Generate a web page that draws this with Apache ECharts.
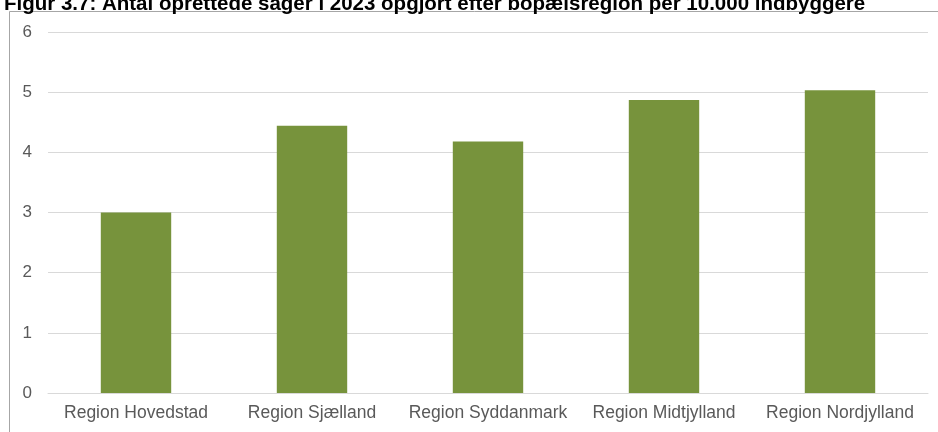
<!DOCTYPE html>
<html>
<head>
<meta charset="utf-8">
<script src="https://cdn.jsdelivr.net/npm/echarts@6/dist/echarts.min.js"></script>
<style>
  html, body { margin: 0; padding: 0; background: #fff; }
  #chart { width: 938px; height: 432px; }
</style>
</head>
<body>
<div id="chart"></div>
<script>
// regions and cases per 10.000 inhabitants
var regions = ['Region Hovedstad', 'Region Sjælland', 'Region Syddanmark', 'Region Midtjylland', 'Region Nordjylland'];
var casesPer10k = [3.0, 4.44, 4.18, 4.87, 5.03];
var yTicks = [0, 1, 2, 3, 4, 5, 6];

var chart = echarts.init(document.getElementById('chart'));

chart.setOption({
    animation: false,
    title: {
        text: 'Figur 3.7: Antal oprettede sager i 2023 opgjort efter bopælsregion per 10.000 indbyggere',
        left: -1,
        top: -11,
        textStyle: {
            fontFamily: 'Liberation Sans',
            fontWeight: 'bold',
            fontSize: 20.5,
            color: '#000'
        }
    },
    graphic: [{
        type: 'rect',
        shape: { x: 9.5, y: 11.5, width: 940, height: 430 },
        style: { fill: 'none', stroke: '#a6a6a6', lineWidth: 1 },
        silent: true,
        z: -1
    }],
    grid: { left: 48, right: 10, top: 32, bottom: 39 },
    xAxis: {
        type: 'category',
        data: regions,
        axisLine: { lineStyle: { color: '#d9d9d9', width: 1 } },
        axisTick: { show: false },
        axisLabel: {
            interval: 0,
            hideOverlap: false,
            margin: 11,
            fontFamily: 'Liberation Sans',
            fontSize: 17.5,
            color: '#595959'
        }
    },
    yAxis: {
        type: 'value',
        min: yTicks[0],
        max: yTicks[yTicks.length - 1],
        interval: 1,
        axisLine: { show: false },
        axisTick: { show: false },
        splitLine: { lineStyle: { color: '#d9d9d9', width: 1 } },
        axisLabel: {
            margin: 16,
            fontFamily: 'Liberation Sans',
            fontSize: 17,
            color: '#595959'
        }
    },
    series: [{
        type: 'bar',
        data: casesPer10k,
        barWidth: '40%',
        itemStyle: { color: '#77933c' }
    }]
});
</script>
</body>
</html>
